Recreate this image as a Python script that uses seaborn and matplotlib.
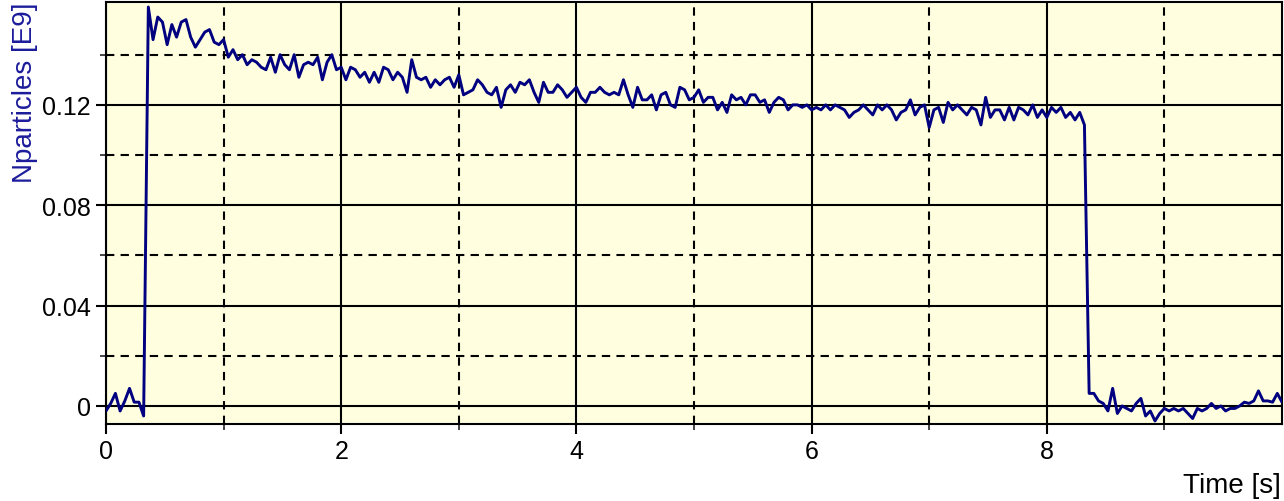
import numpy as np
import pandas as pd
import matplotlib
matplotlib.use("Agg")
import matplotlib.pyplot as plt
import seaborn as sns
from matplotlib.ticker import FixedLocator

# Beam intensity (units of 1e9 particles), sampled every 40 ms
sample_step = 0.04

pre_injection = [-0.002, 0.001, 0.005, -0.002, 0.002, 0.007, 0.0015, 0.0015, -0.004]
stored_0 = [0.159, 0.146, 0.155, 0.153, 0.144, 0.152, 0.147, 0.153, 0.154, 0.147,
            0.143, 0.146, 0.149, 0.150, 0.145, 0.144, 0.146, 0.139, 0.142, 0.138,
            0.140, 0.136, 0.138, 0.137]
stored_1 = [0.135, 0.134, 0.139, 0.133, 0.140, 0.136, 0.134, 0.140, 0.131, 0.136,
            0.137, 0.136, 0.139, 0.130, 0.137, 0.140, 0.134, 0.135, 0.130, 0.135,
            0.134, 0.131, 0.133, 0.129, 0.133]
stored_2 = [0.129, 0.135, 0.134, 0.130, 0.133, 0.131, 0.125, 0.138, 0.131, 0.130,
            0.131, 0.127, 0.130, 0.128, 0.130, 0.131, 0.127, 0.132, 0.124, 0.125,
            0.126, 0.130, 0.128, 0.125]
stored_3 = [0.124, 0.127, 0.119, 0.126, 0.128, 0.125, 0.129, 0.128, 0.130, 0.125,
            0.121, 0.129, 0.125, 0.125, 0.128, 0.126, 0.123, 0.125, 0.127, 0.123,
            0.121, 0.125, 0.125, 0.127, 0.125]
stored_4 = [0.124, 0.125, 0.124, 0.130, 0.124, 0.119, 0.127, 0.122, 0.122, 0.124,
            0.118, 0.124, 0.125, 0.120, 0.119, 0.127, 0.126, 0.122, 0.123, 0.126,
            0.121, 0.123, 0.123, 0.118]
stored_5 = [0.121, 0.117, 0.124, 0.122, 0.123, 0.120, 0.124, 0.124, 0.121, 0.122,
            0.117, 0.121, 0.123, 0.122, 0.118, 0.120, 0.120, 0.119, 0.120, 0.118,
            0.119, 0.118, 0.120, 0.118, 0.120]
stored_6 = [0.119, 0.118, 0.115, 0.117, 0.118, 0.120, 0.118, 0.116, 0.120, 0.118,
            0.120, 0.118, 0.114, 0.117, 0.118, 0.122, 0.116, 0.119, 0.120, 0.111,
            0.118, 0.119, 0.113, 0.121]
stored_7 = [0.118, 0.120, 0.118, 0.116, 0.119, 0.118, 0.112, 0.123, 0.115, 0.118,
            0.118, 0.114, 0.119, 0.114, 0.119, 0.118, 0.116, 0.120, 0.115, 0.118,
            0.115, 0.119, 0.117, 0.119, 0.115, 0.117, 0.114, 0.117, 0.112]
post_dump = [0.005, 0.005, 0.002, 0.001, -0.002, 0.007, -0.003, 0.000, -0.001, -0.002,
             0.001, 0.003, -0.004, -0.002, -0.006, -0.003, -0.001, -0.002, -0.001, -0.002,
             -0.001, -0.003, -0.005, -0.001, -0.002, -0.001, 0.001, -0.001, 0.000, -0.002,
             -0.001, -0.001, 0.000, 0.0015, 0.001, 0.002, 0.006, 0.002, 0.002, 0.0015,
             0.005, 0.0015]

x_ticks = [0, 2, 4, 6, 8]
x_tick_labels = ["0", "2", "4", "6", "8"]
y_ticks = [0, 0.04, 0.08, 0.12]
y_tick_labels = ["0", "0.04", "0.08", "0.12"]
x_minor = [1, 3, 5, 7, 9]
y_minor = [0.02, 0.06, 0.10, 0.14]

nparticles = np.concatenate([pre_injection, stored_0, stored_1, stored_2, stored_3,
                             stored_4, stored_5, stored_6, stored_7, post_dump])
time = np.round(np.arange(len(nparticles)) * sample_step, 3)
df = pd.DataFrame({"Time [s]": time, "Nparticles [E9]": nparticles})

sns.set_style("ticks")
plt.rcParams["font.family"] = ["Liberation Sans", "DejaVu Sans"]

fig = plt.figure(figsize=(12.84, 5.02), dpi=100)
ax = fig.add_axes([106 / 1284, 1 - 425 / 502, (1282 - 106) / 1284, (425 - 3) / 502])
ax.set_facecolor("#FFFFE0")

ax.set_xlim(0, 10)
ax.set_ylim(-0.0072, 0.161)

ax.xaxis.set_major_locator(FixedLocator(x_ticks))
ax.yaxis.set_major_locator(FixedLocator(y_ticks))
ax.xaxis.set_minor_locator(FixedLocator(x_minor))
ax.yaxis.set_minor_locator(FixedLocator(y_minor))
ax.set_xticklabels(x_tick_labels)
ax.set_yticklabels(y_tick_labels)

ax.grid(which="major", color="black", linestyle="-", linewidth=1.5, zorder=1)
ax.grid(which="minor", color="black", linestyle=(0, (4, 3)), linewidth=1.5, zorder=1)
ax.set_axisbelow(True)

sns.lineplot(data=df, x="Time [s]", y="Nparticles [E9]", ax=ax,
             color="#000080", linewidth=2.1, zorder=3)

ax.tick_params(which="major", direction="out", length=7, width=1.5,
               labelsize=18, colors="black", pad=4)
ax.tick_params(which="minor", direction="out", length=4, width=1.2)
for s in ax.spines.values():
    s.set_color("black")
    s.set_linewidth(1.5)

ax.set_xlabel("")
ax.set_ylabel("Nparticles [E9]", fontsize=20, color="#1c1c9c", loc="top", labelpad=3)
fig.text(1281 / 1284, 1 - 486 / 502, "Time [s]", ha="right", va="center",
         fontsize=20, color="black")

fig.savefig("out.png", dpi=100)
